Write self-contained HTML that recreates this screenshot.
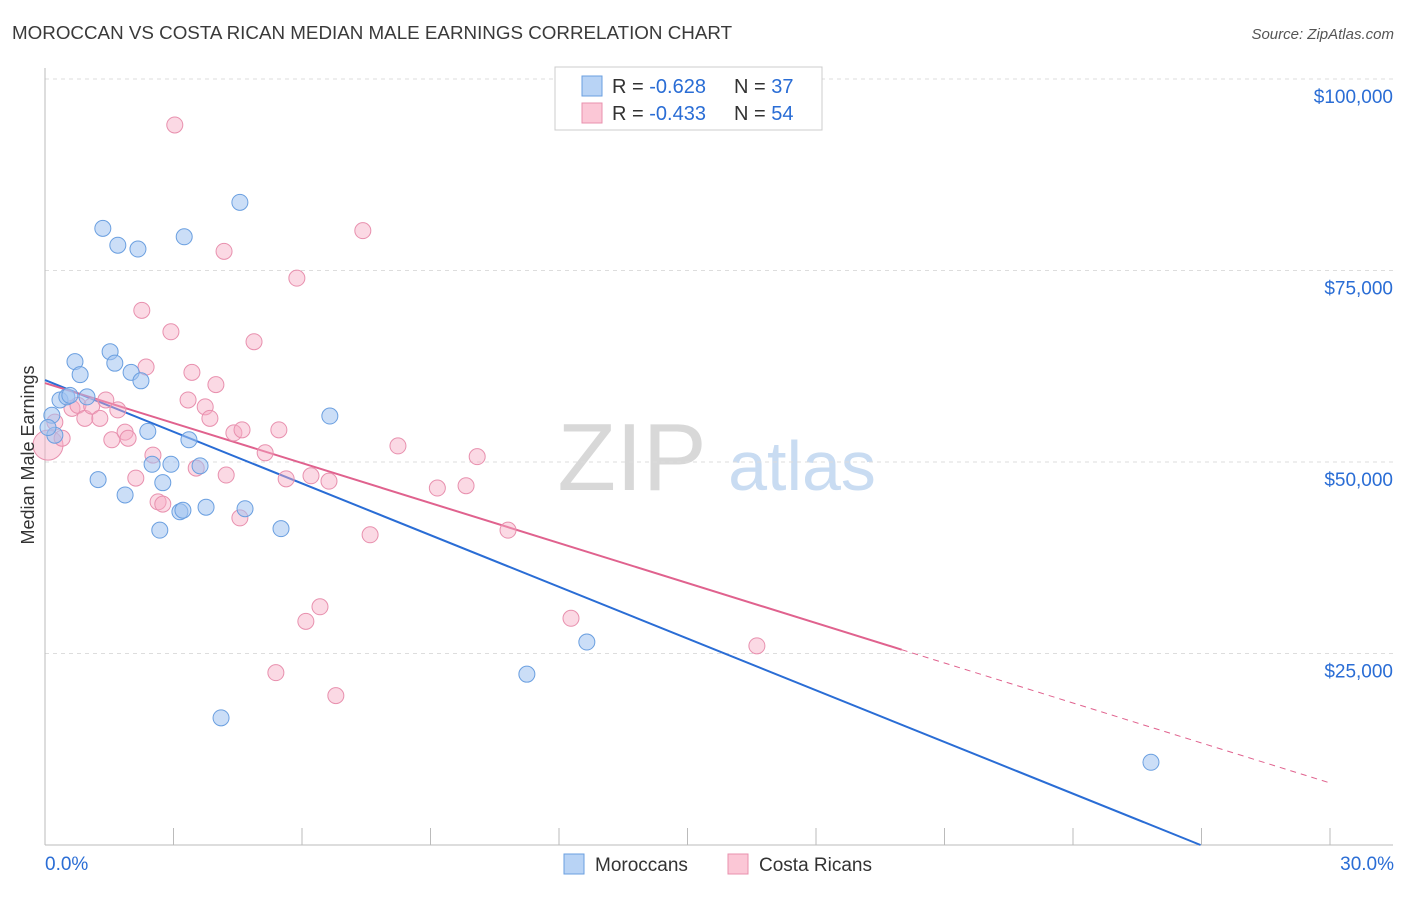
<!DOCTYPE html>
<html><head><meta charset="utf-8"><style>
body{margin:0;background:#fff;font-family:"Liberation Sans",sans-serif}
svg text{font-family:"Liberation Sans",sans-serif}
</style></head><body>
<svg id="chart" width="1406" height="892" xmlns="http://www.w3.org/2000/svg">
<text x="12" y="39" font-size="18.8" fill="#3a3a3a">MOROCCAN VS COSTA RICAN MEDIAN MALE EARNINGS CORRELATION CHART</text>
<text x="1394" y="39" font-size="15" fill="#555" text-anchor="end" font-style="italic">Source: ZipAtlas.com</text>
<g>
<text x="632" y="490" font-size="96" fill="#d8d8d8" font-family="Liberation Serif" text-anchor="middle">ZIP</text>
<text x="802" y="490" font-size="70" fill="#c9dcf2" text-anchor="middle">atlas</text>
</g>
<g id="grid"></g><g id="axes"></g><g id="lines"></g><g id="points"></g>
<text transform="translate(34,455) rotate(-90)" font-size="18" fill="#333" text-anchor="middle">Median Male Earnings</text>
<g>
<rect x="555" y="67" width="267" height="63" fill="#fff" stroke="#ccc"/>
<rect x="582" y="76" width="20" height="20" fill="#b8d3f5" stroke="#6a9fe0"/>
<rect x="582" y="103" width="20" height="20" fill="#fbc7d6" stroke="#e890ae"/>
<text x="612" y="93" font-size="20" fill="#333">R = <tspan fill="#2a6dd5">-0.628</tspan><tspan x="734">N = </tspan><tspan fill="#2a6dd5">37</tspan></text>
<text x="612" y="120" font-size="20" fill="#333">R = <tspan fill="#2a6dd5">-0.433</tspan><tspan x="734">N = </tspan><tspan fill="#2a6dd5">54</tspan></text>
</g>
<g>
<rect x="564" y="854" width="20" height="20" fill="#b8d3f5" stroke="#6a9fe0"/>
<text x="595" y="871" font-size="19" fill="#333">Moroccans</text>
<rect x="728" y="854" width="20" height="20" fill="#fbc7d6" stroke="#e890ae"/>
<text x="759" y="871" font-size="19" fill="#333">Costa Ricans</text>
</g>
</svg>
<script>
const blueX=[0.16,0.23,0.35,0.51,0.70,0.82,0.58,0.98,1.24,1.35,1.52,1.63,1.70,1.87,2.01,2.17,2.24,2.40,2.50,2.68,2.75,2.94,3.15,3.22,3.25,3.36,3.62,3.76,4.11,4.55,4.67,5.51,6.65,11.25,12.65,25.82,0.07];
const blueY=[56.1,53.5,58.1,58.5,63.1,61.4,58.7,58.5,47.7,80.5,64.4,62.9,78.3,45.7,61.7,77.8,60.6,54.0,49.7,41.1,47.3,49.7,43.5,43.7,79.4,52.9,49.5,44.1,16.6,83.9,43.9,41.3,56.0,22.3,26.5,10.8,54.5];
const pinkX=[0.07,0.23,0.40,0.63,0.77,0.93,1.09,1.28,1.42,1.56,1.70,1.87,1.94,2.12,2.26,2.36,2.52,2.64,2.75,2.94,3.03,3.34,3.43,3.53,3.74,3.85,3.99,4.18,4.23,4.41,4.55,4.60,4.88,5.14,5.39,5.46,5.63,5.88,6.09,6.21,6.42,6.63,6.79,7.42,7.59,8.24,9.16,9.83,10.09,10.81,12.28,16.62];
const pinkY=[52.2,55.2,53.1,57.0,57.4,55.7,57.3,55.7,58.1,52.9,56.8,53.9,53.1,47.9,69.8,62.4,50.9,44.8,44.5,67.0,94.0,58.1,61.7,49.2,57.2,55.7,60.1,77.5,48.3,53.8,42.7,54.2,65.7,51.2,22.5,54.2,47.8,74.0,29.2,48.2,31.1,47.5,19.5,80.2,40.5,52.1,46.6,46.9,50.7,41.1,29.6,26.0];
const yTicks=[25,50,75,100];
const yTickLabels=["$25,000","$50,000","$75,000","$100,000"];
const blueTrend=[60.7,-2.25];
const pinkTrend=[60.3,-1.74];
const NS="http://www.w3.org/2000/svg";
const sx=v=>45+v*1285/30, sy=v=>845-v*7.66;
function mk(p,t,a){const e=document.createElementNS(NS,t);for(const k in a)e.setAttribute(k,a[k]);document.getElementById(p).appendChild(e);return e;}
yTicks.forEach((t,i)=>{
 const l=mk('grid','line',{x1:45,x2:1393,y1:sy(t),y2:sy(t),stroke:'#ddd','stroke-dasharray':'4,4'});
 
 
 const tx=mk('grid','text',{x:1393,y:sy(t)+24,'font-size':19,fill:'#2a6dd5','text-anchor':'end'});
 tx.textContent=yTickLabels[i];
 
 
});
mk('axes','line',{x1:45,x2:45,y1:68,y2:845,stroke:'#bbb'});
mk('axes','line',{x1:45,x2:1393,y1:845,y2:845,stroke:'#bbb'});
for(let i=0;i<=10;i++){const x=sx(i*3);mk('axes','line',{x1:x,x2:x,y1:828,y2:845,stroke:'#bbb'});}
const xl0=mk('axes','text',{x:45,y:870,'font-size':19,fill:'#2a6dd5'});xl0.textContent='0.0%';


const xl1=mk('axes','text',{x:1394,y:870,'font-size':19,fill:'#2a6dd5','text-anchor':'end'});xl1.textContent='30.0%';


const bEnd=-blueTrend[0]/blueTrend[1];
const bl=mk('lines','line',{x1:sx(0),y1:sy(blueTrend[0]),x2:sx(bEnd),y2:sy(0),stroke:'#2a6dd5','stroke-width':2});


const pl=mk('lines','line',{x1:sx(0),y1:sy(pinkTrend[0]),x2:sx(20),y2:sy(pinkTrend[0]+pinkTrend[1]*20),stroke:'#e0628e','stroke-width':2});


const pd=mk('lines','line',{x1:sx(20),y1:sy(pinkTrend[0]+pinkTrend[1]*20),x2:sx(30),y2:sy(pinkTrend[0]+pinkTrend[1]*30),stroke:'#e0628e','stroke-width':1,'stroke-dasharray':'6,5'});


pinkX.forEach((x,i)=>{
 const c=mk('points','circle',{cx:sx(x),cy:sy(pinkY[i]),r:i===0?15:8,fill:'rgba(247,170,195,0.45)',stroke:'#e890ae','stroke-width':1});
 
 
});
blueX.forEach((x,i)=>{
 const c=mk('points','circle',{cx:sx(x),cy:sy(blueY[i]),r:8,fill:'rgba(160,195,240,0.55)',stroke:'#6a9fe0','stroke-width':1});
 
 
});
</script>
</body></html>
